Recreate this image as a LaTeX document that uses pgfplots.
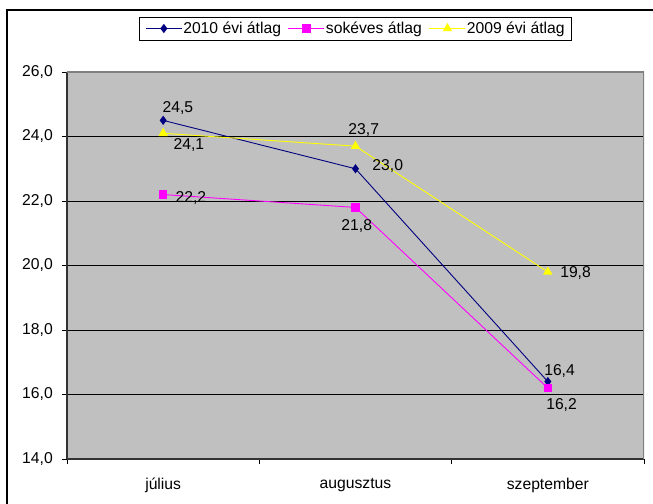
\documentclass[border=0pt]{standalone}
\usepackage{fontspec}
\setmainfont{Liberation Sans}
\usepackage{pgfplots}
\usepackage{pgfplotstable}
\pgfplotsset{compat=1.18}

\definecolor{plotbg}{HTML}{C0C0C0}
\definecolor{s2010}{HTML}{000080}
\definecolor{sokeves}{HTML}{FF00FF}
\definecolor{s2009}{HTML}{FFFF00}
\newcommand\lbfont{\fontsize{15.7bp}{18bp}\selectfont}

\pgfplotsset{/pgf/number format/.cd, use comma, fixed, fixed zerofill, precision=1, assume math mode=true}

% x: 0 = július, 1 = augusztus, 2 = szeptember; dx, dy: label offset in bp
\pgfplotstableread{
x y dx dy
0 24.5 -1 12.4
1 23.0 16.5 3.2
2 16.4 -4 11
}\tblA
\pgfplotstableread{
x y dx dy
0 22.2 12 -3
1 21.8 -14.5 -19
2 16.2 -2 -17
}\tblB
\pgfplotstableread{
x y dx dy
0 24.1 10 -11.7
1 23.7 -7.5 16.2
2 19.8 12 -1.5
}\tblC

\pgfplotsset{lbl/.style={
  nodes near coords, point meta=y,
  visualization depends on={\thisrow{dx}\as\ldx},
  visualization depends on={\thisrow{dy}\as\ldy},
  every node near coord/.append style={anchor=west, inner sep=0pt,
    xshift=\ldx bp, yshift=\ldy bp, font=\lbfont, text=black}}}

\begin{document}
\begin{tikzpicture}
\useasboundingbox (-67bp,-45bp) rectangle (586bp,459bp);
\draw[black, line width=1.3bp] (-60bp,-46bp) -- (-60bp,449bp) -- (587bp,449bp);
\begin{axis}[
  at={(0bp,0bp)}, anchor=south west,
  scale only axis, width=577bp, height=387bp,
  xmin=-0.5, xmax=2.5, ymin=14, ymax=26,
  axis background/.style={fill=plotbg},
  axis x line*=bottom, axis y line*=left,
  axis line style={draw=black!80, line width=1.5bp},
  ytick={14,16,...,26},
  xtick={0,1,2},
  xticklabels={július,augusztus,szeptember},
  minor xtick={-0.5,0.5,1.5,2.5},
  major x tick style={draw=none},
  tick align=outside,
  major tick length=5bp, minor tick length=5bp,
  tick style={black, line width=0.8bp},
  ymajorgrids, grid style={black, line width=0.8bp},
  every tick label/.append style={font=\lbfont},
  yticklabel style={anchor=east, inner sep=0pt, xshift=-9bp},
  xticklabel style={anchor=north, inner sep=0pt, yshift=-14bp},
  legend columns=3,
  legend style={at={(0.5,1.1124)}, anchor=center, draw=black, line width=0.8bp,
    font=\lbfont, inner xsep=5.5bp, inner ysep=4bp, nodes={inner sep=1bp},
    /tikz/every even column/.append style={column sep=6bp}},
  legend image code/.code={\draw[mark repeat=2, mark phase=2] plot coordinates {(0bp,0bp) (18bp,0bp) (36bp,0bp)};},
]
\addplot[s2010, line width=0.9bp, mark=diamond*, mark size=3.9bp, lbl] table[x=x, y=y] {\tblA};
\addlegendentry{2010 évi átlag}
\addplot[sokeves, line width=0.9bp, mark=square*, mark size=3.6bp, lbl] table[x=x, y=y] {\tblB};
\addlegendentry{sokéves átlag}
\addplot[s2009, line width=0.9bp, mark=triangle*, mark size=4.6bp, lbl] table[x=x, y=y] {\tblC};
\addlegendentry{2009 évi átlag}
\draw[gray, line width=1.2bp] (rel axis cs:0,1) -- (rel axis cs:1,1) -- (rel axis cs:1,0);
\end{axis}
\end{tikzpicture}
\end{document}
